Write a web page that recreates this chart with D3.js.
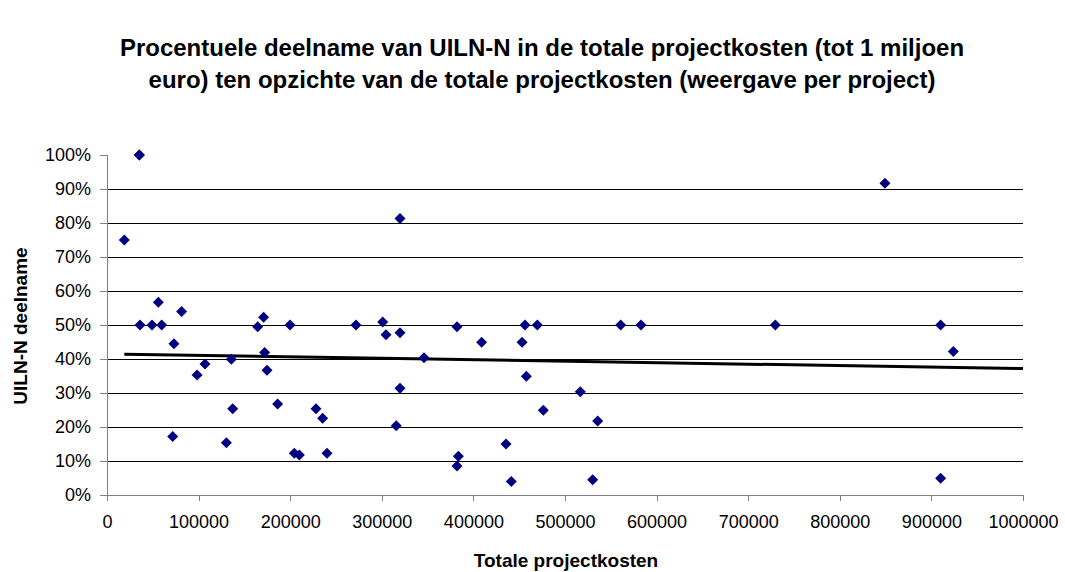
<!DOCTYPE html>
<html><head><meta charset="utf-8">
<script src="https://cdn.jsdelivr.net/npm/d3@7"></script>
<style>body{margin:0;background:#fff}svg{display:block}text{font-family:"Liberation Sans",Arial,sans-serif}</style>
</head><body>
<svg id="c" width="1065" height="572"></svg>
<script>
const titleLines = ["Procentuele deelname van UILN-N in de totale projectkosten (tot 1 miljoen",
  "euro) ten opzichte van de totale projectkosten (weergave per project)"];
const xTitle = "Totale projectkosten";
const yTitle = "UILN-N deelname";
const projectCost = [18900,35300,35300,56000,81500,36000,49100,59700,164500,171000,199800,271800,301000,304600,319900,319900,
  73100,107000,98300,135700,137200,71700,130300,172100,174700,186300,204500,210000,228200,235400,240200,319900,315800,
  382100,456300,469800,560800,583000,409000,453100,346100,457800,516700,476300,535700,435600,383600,382100,441400,530200,
  849300,729600,910100,923900,910100];
const share = [0.75,1.0,1.0,0.567,0.54,0.50,0.50,0.50,0.495,0.523,0.50,0.50,0.509,0.471,0.477,0.813,
  0.445,0.385,0.353,0.399,0.254,0.172,0.154,0.419,0.367,0.268,0.123,0.118,0.254,0.226,0.123,0.314,0.204,
  0.495,0.50,0.50,0.50,0.50,0.449,0.449,0.404,0.349,0.304,0.249,0.218,0.15,0.114,0.085,0.04,0.045,
  0.917,0.50,0.50,0.422,0.049];
const trendX = [18900, 1000000];
const trendY = [0.414, 0.372];
const xTicks = [0,100000,200000,300000,400000,500000,600000,700000,800000,900000,1000000];
const yTicks = [0,0.1,0.2,0.3,0.4,0.5,0.6,0.7,0.8,0.9,1.0];

const svg = d3.select("#c");
const x = d3.scaleLinear().domain([0,1000000]).range([107,1023]);
const y = d3.scaleLinear().domain([0,1]).range([495,155]);

svg.append("g").selectAll("text").data(titleLines).join("text")
  .attr("x",542).attr("y",(d,i)=>56+i*32).attr("text-anchor","middle")
  .attr("font-size",24).attr("font-weight","bold").text(d=>d);

// gridlines
svg.append("g").selectAll("line").data(yTicks.filter(v=>v>0&&v<1)).join("line")
  .attr("x1",107).attr("x2",1023).attr("y1",d=>y(d)).attr("y2",d=>y(d))
  .attr("stroke","#000").attr("stroke-width",1).attr("shape-rendering","crispEdges");

const xa = svg.append("g").attr("transform","translate(0,495)")
  .call(d3.axisBottom(x).tickValues(xTicks).tickFormat(d3.format("d")).tickSizeOuter(0).tickSize(6).tickPadding(14));
const ya = svg.append("g").attr("transform","translate(107,0)")
  .call(d3.axisLeft(y).tickValues(yTicks).tickFormat(d3.format(".0%")).tickSizeOuter(0).tickSize(7).tickPadding(9));
[xa,ya].forEach(a=>{
  a.selectAll("path,line").attr("stroke","#808080").attr("shape-rendering","crispEdges");
  a.selectAll("text").attr("font-size",18).attr("fill","#000").attr("font-family","'Liberation Sans',Arial,sans-serif");
});

// trend line
svg.append("line").attr("x1",x(trendX[0])).attr("y1",y(trendY[0])).attr("x2",x(trendX[1])).attr("y2",y(trendY[1]))
  .attr("stroke","#000").attr("stroke-width",3);

// points
const r = 5.5;
svg.append("g").selectAll("path").data(projectCost.map((c,i)=>[c,share[i]])).join("path")
  .attr("d",d=>{const cx=x(d[0]),cy=y(d[1]);return `M${cx},${cy-r}L${cx+r},${cy}L${cx},${cy+r}L${cx-r},${cy}Z`;})
  .attr("fill","#000080");

svg.append("text").attr("x",566).attr("y",567).attr("text-anchor","middle")
  .attr("font-size",19).attr("font-weight","bold").text(xTitle);
svg.append("text").attr("transform","translate(27,326) rotate(-90)").attr("text-anchor","middle")
  .attr("font-size",19).attr("font-weight","bold").text(yTitle);
</script>
</body></html>
